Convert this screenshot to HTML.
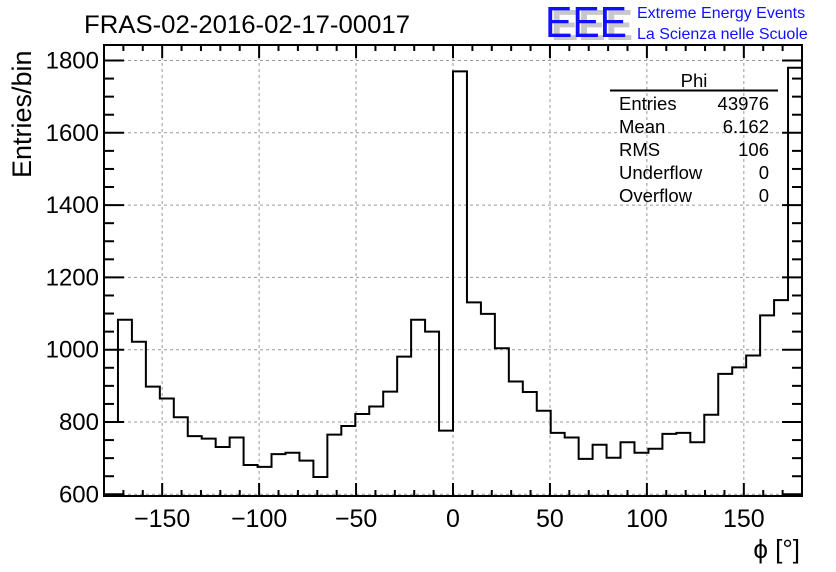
<!DOCTYPE html>
<html><head><meta charset="utf-8"><style>
html,body{margin:0;padding:0;background:#fff;}
svg{display:block;font-family:"Liberation Sans",sans-serif;}
</style></head><body>
<svg id="c" width="836" height="572" viewBox="0 0 836 572" xmlns="http://www.w3.org/2000/svg">
<rect width="836" height="572" fill="#fff"/>
<text x="247" y="33" font-size="25" text-anchor="middle" textLength="326" lengthAdjust="spacingAndGlyphs">FRAS-02-2016-02-17-00017</text>
<g>
<text x="551" y="40" font-size="44" fill="#c8c8c8" font-weight="bold" textLength="82" lengthAdjust="spacingAndGlyphs">EEE</text>
<text x="545" y="37" font-size="44" fill="#1010ff" textLength="82" lengthAdjust="spacingAndGlyphs">EEE</text>
<text x="637" y="18" font-size="16" fill="#1010ff">Extreme Energy Events</text>
<text x="637" y="39" font-size="16" fill="#1010ff">La Scienza nelle Scuole</text>
</g>
<g id="grid"></g>
<g id="axes"></g>
<path id="hist" fill="none" stroke="#000" stroke-width="2"/>
<g font-size="18.5">
<text x="694" y="87" text-anchor="middle">Phi</text>
<line x1="610" y1="90.5" x2="778" y2="90.5" stroke="#000" stroke-width="2"/>
<text x="619" y="110">Entries</text><text x="769" y="110" text-anchor="end">43976</text>
<text x="619" y="133">Mean</text><text x="769" y="133" text-anchor="end">6.162</text>
<text x="619" y="156">RMS</text><text x="769" y="156" text-anchor="end">106</text>
<text x="619" y="179">Underflow</text><text x="769" y="179" text-anchor="end">0</text>
<text x="619" y="202">Overflow</text><text x="769" y="202" text-anchor="end">0</text>
</g>
<text transform="translate(31,178) rotate(-90)" font-size="27" text-anchor="start">Entries/bin</text>
<text x="800" y="558" font-size="26" text-anchor="end">ϕ [°]</text>
</svg>
<script>
const binCounts=[800,1083,1022,898,865,813,761,754,731,757,681,676,711,715,693,648,765,789,822,843,884,981,1083,1050,776,1770,1131,1099,1004,912,883,831,770,757,698,737,701,744,715,726,767,770,744,820,933,951,984,1095,1137,1780];
const xTicks=[-150,-100,-50,0,50,100,150];
const yTicks=[600,800,1000,1200,1400,1600,1800];
const xMin=-180,xMax=180;
const L=104,R=802,T=45,B=496;
const X=v=>L+(v-xMin)/(xMax-xMin)*(R-L);
const Y=v=>494.3-(v-600)*0.3615;
const NS='http://www.w3.org/2000/svg';
function mk(tag,attrs,parent){const e=document.createElementNS(NS,tag);for(const k in attrs)e.setAttribute(k,attrs[k]);parent.appendChild(e);return e;}
const grid=document.getElementById('grid'),axes=document.getElementById('axes');
xTicks.forEach(t=>{const l=mk('line',{x1:X(t),x2:X(t),y1:T,y2:B,stroke:'#999','stroke-dasharray':'3,3','stroke-width':1},grid);

});
yTicks.forEach(t=>{const l=mk('line',{x1:L,x2:R,y1:Y(t),y2:Y(t),stroke:'#999','stroke-dasharray':'3,3','stroke-width':1},grid);

});
mk('rect',{x:L,y:T,width:R-L,height:B-T,fill:'none',stroke:'#000','stroke-width':2},axes);
for(let v=-180;v<=180;v+=10){const maj=v%50===0;const len=maj?13:6;
mk('line',{x1:X(v),x2:X(v),y1:B,y2:B-len,stroke:'#000','stroke-width':2},axes);
mk('line',{x1:X(v),x2:X(v),y1:T,y2:T+len,stroke:'#000','stroke-width':2},axes);}
for(let v=600;v<=1840;v+=50){const maj=v%200===0;const len=maj?20:10;
mk('line',{x1:L,x2:L+len,y1:Y(v),y2:Y(v),stroke:'#000','stroke-width':2},axes);
mk('line',{x1:R,x2:R-len,y1:Y(v),y2:Y(v),stroke:'#000','stroke-width':2},axes);}
xTicks.forEach(t=>{const e=mk('text',{x:X(t),y:527,'font-size':25,'text-anchor':'middle'},axes);e.textContent=(t<0?'\u2212':'')+Math.abs(t);

});
yTicks.forEach(t=>{const e=mk('text',{x:99,y:Y(t)+8,'font-size':24,'text-anchor':'end'},axes);e.textContent=t;

});
const w=(xMax-xMin)/binCounts.length;
let d='M'+X(xMin)+','+B;
binCounts.forEach((c,i)=>{const x0=X(xMin+i*w),x1=X(xMin+(i+1)*w);d+=' L'+x0+','+Y(c)+' L'+x1+','+Y(c);});
d+=' L'+X(xMax)+','+B;
document.getElementById('hist').setAttribute('d',d);
</script>
</body></html>
